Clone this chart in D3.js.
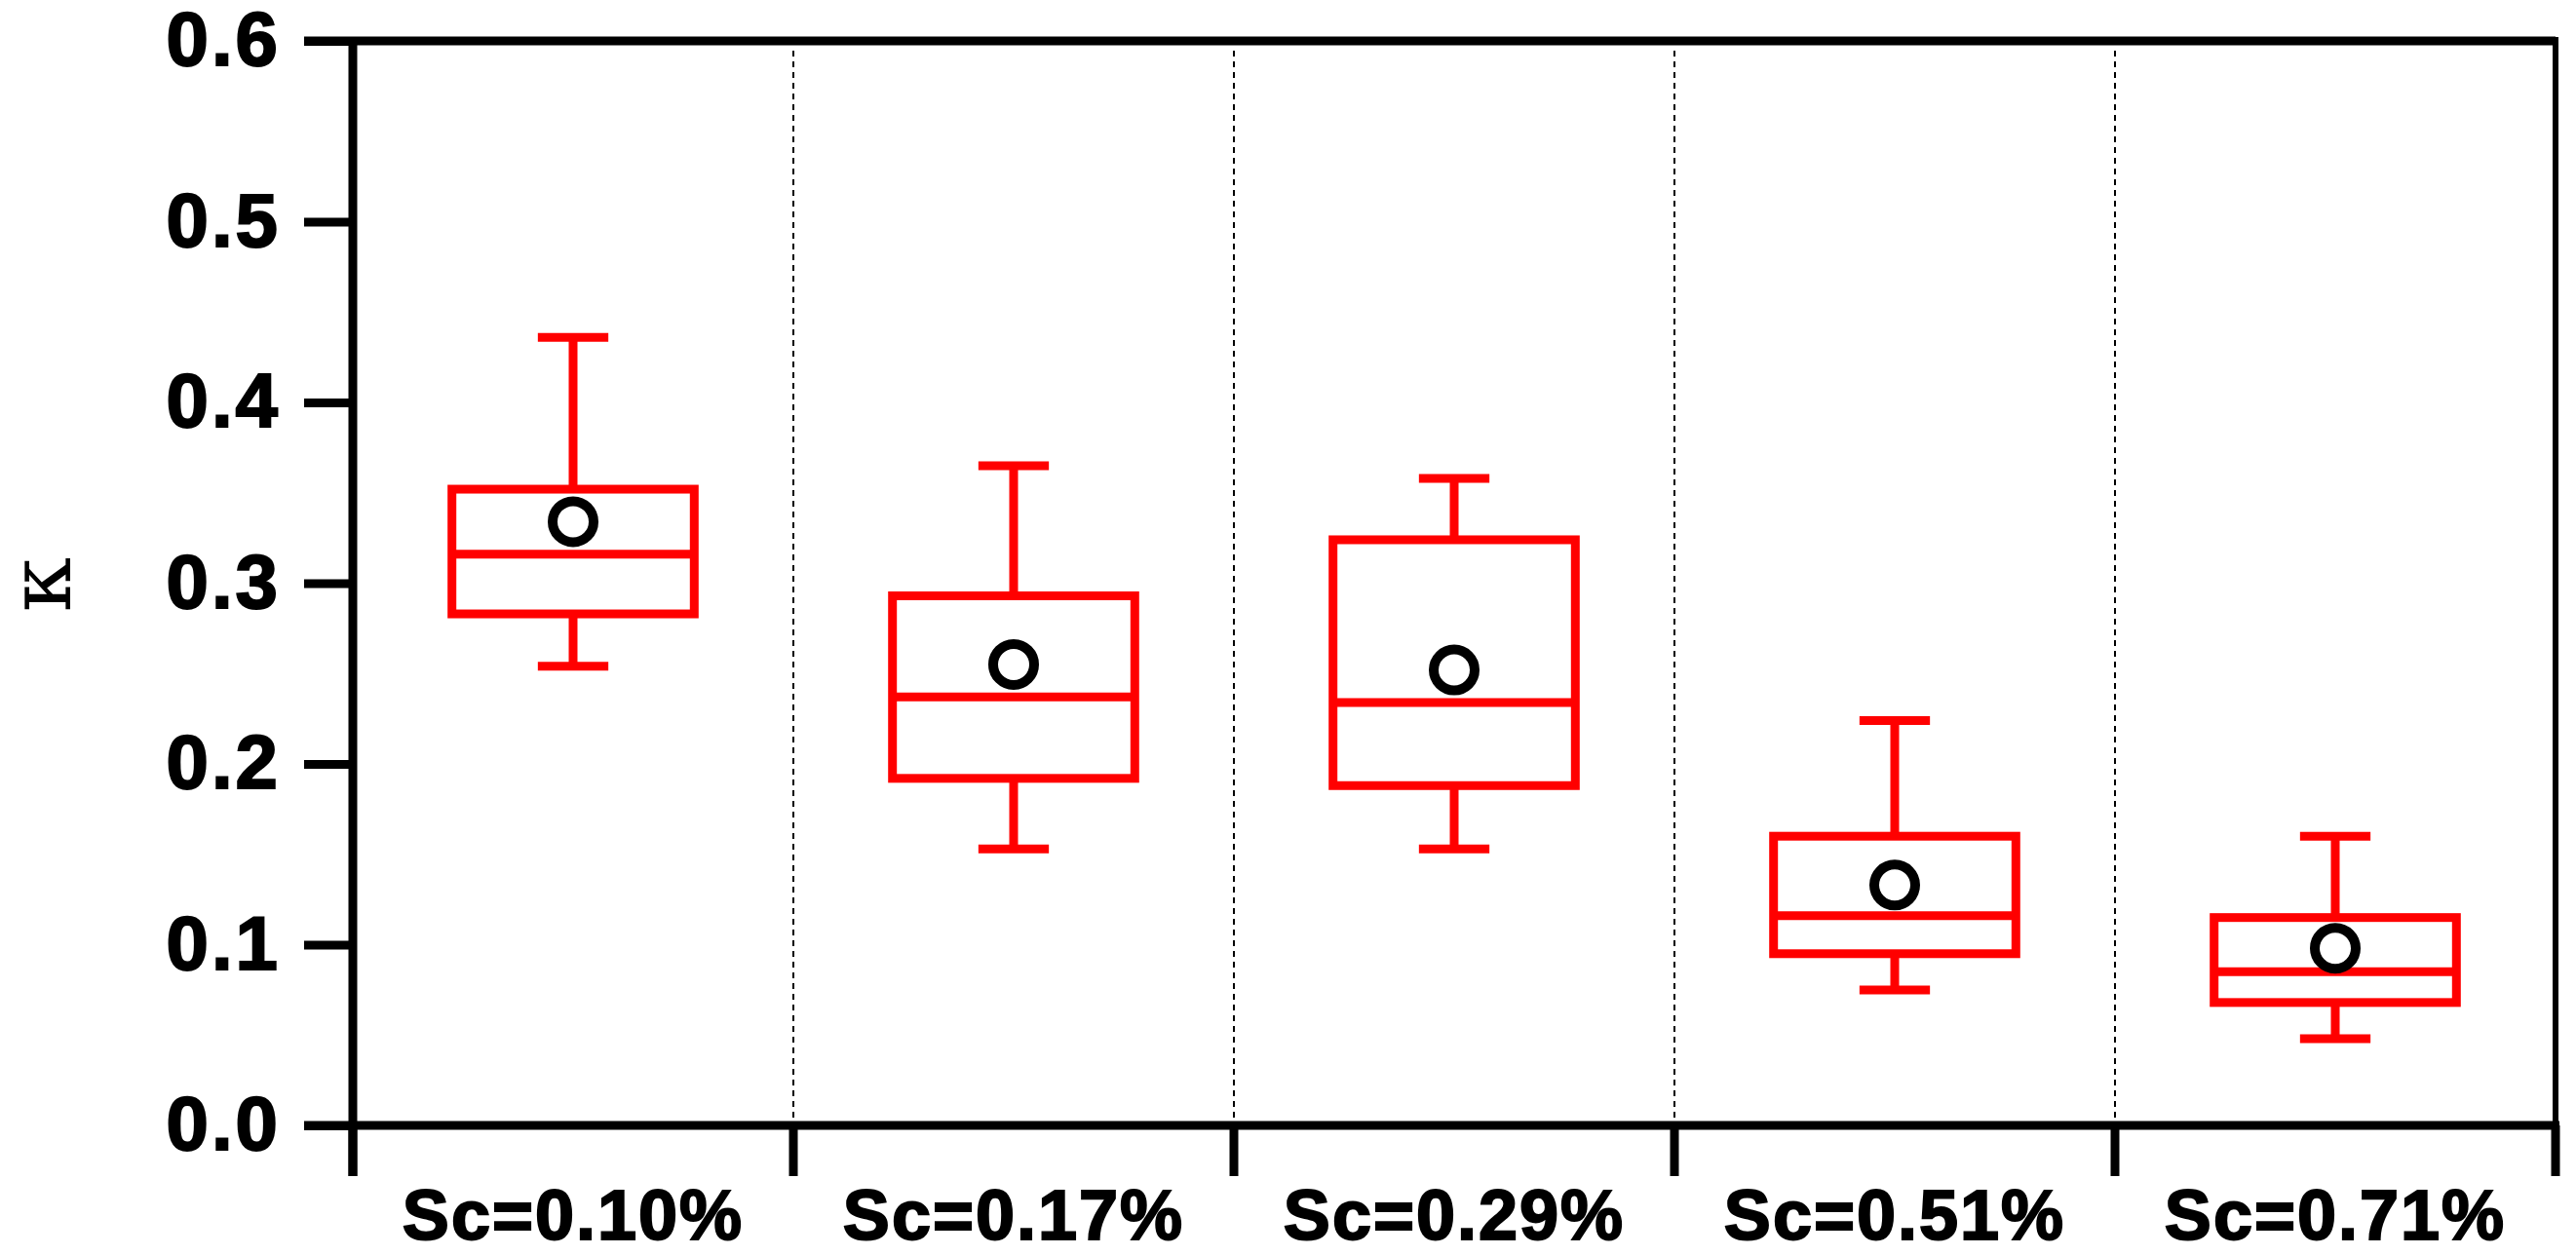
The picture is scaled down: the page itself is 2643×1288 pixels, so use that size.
<!DOCTYPE html>
<html><head><meta charset="utf-8">
<script src="https://cdn.jsdelivr.net/npm/d3@7"></script>
<style>body{margin:0;background:#fff}</style></head>
<body><svg id="c" width="2643" height="1288"></svg>
<script>
const categories=["Sc=0.10%","Sc=0.17%","Sc=0.29%","Sc=0.51%","Sc=0.71%"];
const whiskerHigh=[0.436,0.365,0.358,0.224,0.160];
const q3=[0.352,0.293,0.324,0.160,0.115];
const median=[0.316,0.237,0.234,0.116,0.085];
const q1=[0.283,0.192,0.188,0.095,0.068];
const whiskerLow=[0.254,0.153,0.153,0.075,0.048];
const mean=[0.334,0.255,0.252,0.133,0.098];
const yTicks=[0,0.1,0.2,0.3,0.4,0.5,0.6];

const L=362,R=2622,T=42,B=1155;
const svg=d3.select("#c");
const x=d3.scaleBand().domain(categories).range([L,R]);
const y=d3.scaleLinear().domain([0,0.6]).range([B,T]);
const red="#ff0000",font="Arial, 'Liberation Sans', sans-serif";

categories.slice(1).forEach(c=>{
  svg.append("line").attr("x1",x(c)).attr("x2",x(c)).attr("y1",T+10).attr("y2",B-8)
   .attr("stroke","#000").attr("stroke-width",2).attr("stroke-dasharray","6,5");
});
svg.append("line").attr("x1",L-50).attr("x2",R).attr("y1",T).attr("y2",T).attr("stroke","#000").attr("stroke-width",9);
svg.append("line").attr("x1",R).attr("x2",R).attr("y1",T-4).attr("y2",B).attr("stroke","#000").attr("stroke-width",6);

const ya=svg.append("g").attr("transform",`translate(${L},0)`)
 .call(d3.axisLeft(y).tickValues(yTicks).tickFormat(d3.format(".1f")).tickSize(50).tickPadding(24));
ya.select(".domain").remove();
ya.selectAll(".tick line").attr("stroke","#000").attr("stroke-width",9);
ya.selectAll(".tick text").attr("font-family",font).attr("font-weight","900").attr("font-size",78)
  .attr("letter-spacing",3).attr("stroke","#000").attr("stroke-width",2).attr("fill","#000");
svg.append("line").attr("x1",L).attr("x2",L).attr("y1",T-4).attr("y2",B+52).attr("stroke","#000").attr("stroke-width",9);

svg.append("line").attr("x1",L-50).attr("x2",R+4).attr("y1",B).attr("y2",B).attr("stroke","#000").attr("stroke-width",9);
categories.concat(["end"]).forEach((c,i)=>{
  const xx=i<categories.length?x(c):R;
  svg.append("line").attr("x1",xx).attr("x2",xx).attr("y1",B).attr("y2",B+52).attr("stroke","#000").attr("stroke-width",9);
});
categories.forEach(c=>{
  svg.append("text").attr("x",x(c)+x.bandwidth()/2).attr("y",1272).attr("text-anchor","middle")
   .attr("font-family",font).attr("font-weight","900").attr("font-size",72).attr("letter-spacing",2)
   .attr("stroke","#000").attr("stroke-width",2).text(c);
});
svg.append("text").attr("transform","translate(72,600) rotate(-90)").attr("text-anchor","middle")
 .attr("font-family","'DejaVu Serif', serif").attr("font-size",90).text("κ");

const bw=x.bandwidth()*0.55, cw=x.bandwidth()*0.16;
categories.forEach((c,i)=>{
  const cx=x(c)+x.bandwidth()/2;
  const g=svg.append("g").attr("stroke",red).attr("stroke-width",9).attr("fill","none");
  g.append("line").attr("x1",cx).attr("x2",cx).attr("y1",y(q3[i])).attr("y2",y(whiskerHigh[i]));
  g.append("line").attr("x1",cx).attr("x2",cx).attr("y1",y(q1[i])).attr("y2",y(whiskerLow[i]));
  g.append("line").attr("x1",cx-cw/2).attr("x2",cx+cw/2).attr("y1",y(whiskerHigh[i])).attr("y2",y(whiskerHigh[i]));
  g.append("line").attr("x1",cx-cw/2).attr("x2",cx+cw/2).attr("y1",y(whiskerLow[i])).attr("y2",y(whiskerLow[i]));
  g.append("rect").attr("x",cx-bw/2).attr("width",bw).attr("y",y(q3[i])).attr("height",y(q1[i])-y(q3[i]));
  g.append("line").attr("x1",cx-bw/2).attr("x2",cx+bw/2).attr("y1",y(median[i])).attr("y2",y(median[i]));
  svg.append("circle").attr("cx",cx).attr("cy",y(mean[i])).attr("r",21).attr("fill","none").attr("stroke","#000").attr("stroke-width",10);
});
</script></body></html>
